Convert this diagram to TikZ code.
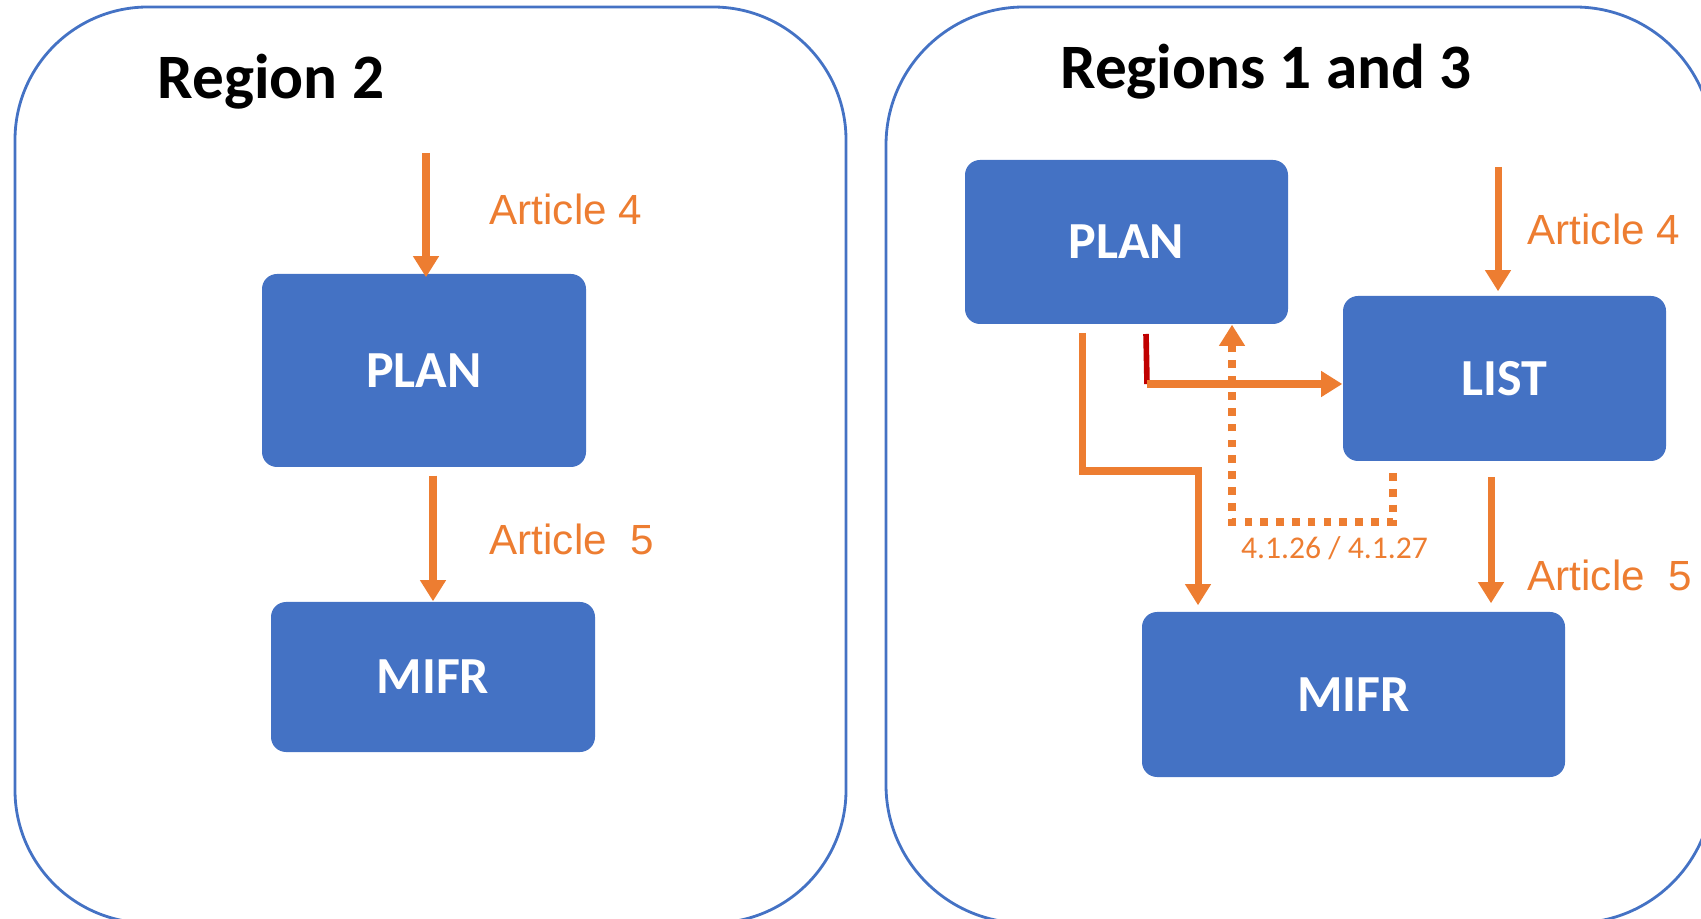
\documentclass[tikz,border=0pt]{standalone}
\usepackage{fontspec}
\setmainfont{Carlito}
\newfontfamily\artfont{Liberation Sans}
\usetikzlibrary{arrows.meta,positioning}
\definecolor{boxblue}{HTML}{4472C4}
\definecolor{arrorange}{HTML}{ED7D31}
\definecolor{darkred}{HTML}{C00000}

\begin{document}
\begin{tikzpicture}[
        block/.style={fill=boxblue, rounded corners=0.15cm, text=white, inner sep=0pt,
            font=\fontsize{14.8}{16}\selectfont\bfseries},
        flow/.style={arrorange, line width=2pt, -{Triangle[length=6pt,width=7pt]}},
        dotflow/.style={flow, line width=2.2pt, dash pattern=on 2.2pt off 2.3pt},
        artlabel/.style={text=arrorange, anchor=base west, inner sep=0pt,
            font=\artfont\fontsize{12}{14}\selectfont},
        title/.style={anchor=base west, inner sep=0pt, font=\fontsize{18}{20}\selectfont\bfseries},
        panel/.style={boxblue, line width=0.8pt}
    ]
        \useasboundingbox (0,0) rectangle (17.01,9.18);

        % Region 2
        \draw[panel, rounded corners=1.33cm] (0.15,-0.05) rectangle (8.46,9.11);
        \node[title] (lhead) at (1.57,8.19) {Region 2};
        \node[block, minimum width=3.24cm, minimum height=1.93cm] (lplan) at (4.24,5.475) {PLAN};
        \node[block, minimum width=3.24cm, minimum height=1.50cm] (lmifr) at (4.33,2.41) {MIFR};

        \coordinate (lin) at (4.26,7.65);
        \draw[flow, shorten >=-0.04cm] (lin) -- (lin |- lplan.north);
        \draw[flow, shorten <=0.08cm] (lmifr.north |- lplan.south) -- (lmifr.north);

        \node[artlabel] (lart4) at (4.89,6.93) {Article 4};
        \node[artlabel] (lart5) at (4.89,3.63) {Article~ 5};

        % Regions 1 and 3
        \draw[panel, rounded corners=1.38cm] (8.86,-0.05) rectangle (17.13,9.11);
        \node[title, anchor=base] (rhead) at (12.66,8.29) {Regions 1 and 3};
        \node[block, minimum width=3.23cm, minimum height=1.64cm] (rplan) at (11.265,6.76) {PLAN};
        \node[block, minimum width=3.23cm, minimum height=1.65cm] (rlist) at (15.045,5.395) {LIST};
        \node[block, minimum width=4.23cm, minimum height=1.65cm] (rmifr) at (13.535,2.235) {MIFR};

        \coordinate (rin) at (14.98,7.51);
        \draw[flow, shorten >=0.04cm] (rin) -- (rin |- rlist.north);
        \coordinate (lsout) at (14.91,4.41);
        \draw[flow, shorten >=0.08cm] (lsout) -- (lsout |- rmifr.north);

        \coordinate (pdrop) at (10.82,5.85);
        \coordinate (pturn) at (11.98,4.47);
        \draw[flow, shorten >=0.06cm] (pdrop) |- (pturn) -- (pturn |- rmifr.north);

        \coordinate (rtop) at (11.46,5.84);
        \coordinate (rbot) at (11.47,5.34);
        \draw[darkred, line width=1.6pt] (rtop) -- (rbot);
        \draw[flow] (rbot) -- (rbot -| rlist.west);

        \coordinate (dstart) at (13.93,4.45);
        \coordinate (dturn) at (12.32,3.96);
        \draw[dotflow] (dstart) |- (dturn) -- (dturn |- rplan.south);

        \node[text=arrorange, anchor=base, inner sep=0pt, font=\fontsize{9}{11}\selectfont] (rcode) at (13.345,3.59) {4.1.26 / 4.1.27};
        \node[artlabel] (rart4) at (15.27,6.73) {Article 4};
        \node[artlabel] (rart5) at (15.27,3.27) {Article~ 5};
    \end{tikzpicture}
\end{document}
